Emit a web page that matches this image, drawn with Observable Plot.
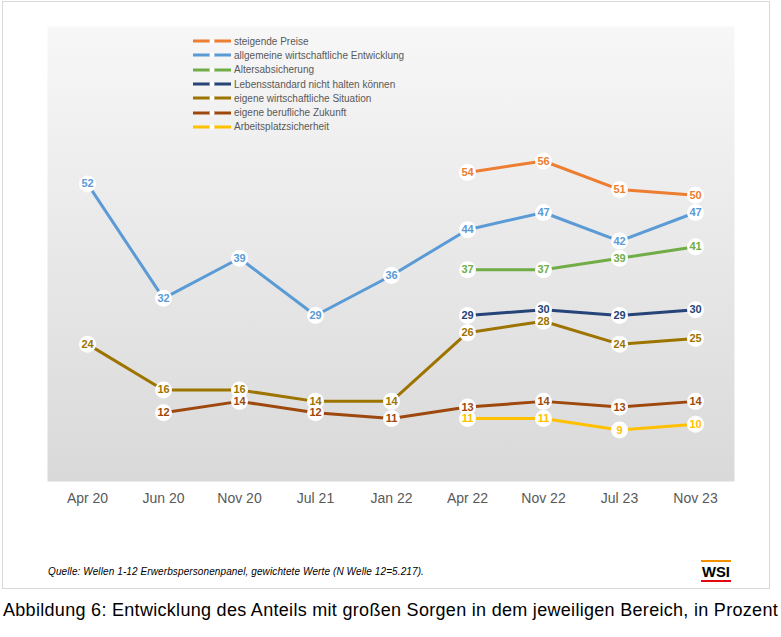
<!DOCTYPE html>
<html><head><meta charset="utf-8">
<script src="https://cdn.jsdelivr.net/npm/d3@7"></script>
<script src="https://cdn.jsdelivr.net/npm/@observablehq/plot@0.6"></script>
<style>
body{margin:0;background:#fff;}
#wrap{position:relative;width:781px;height:637px;overflow:hidden;}
#frame{position:absolute;left:2px;top:1px;width:768px;height:588px;border:1px solid #d9d9d9;box-sizing:border-box;}
#chart{position:absolute;left:0;top:0;}
#legend{position:absolute;left:190px;top:34px;font:10px "Liberation Sans",Arial,sans-serif;color:#595959;}
.li{height:14.3px;display:flex;align-items:center;}
.li svg{margin-right:2px;}
#source{position:absolute;left:48px;top:566px;font:italic 10px "Liberation Sans",Arial,sans-serif;color:#000;white-space:nowrap;}
#logo{position:absolute;left:701px;top:560px;width:30px;height:23px;}
#caption{position:absolute;left:3px;top:600px;font:18px "Liberation Sans",sans-serif;color:#000;white-space:nowrap;}
</style>
</head><body>
<div id="wrap">
  <div id="frame"></div>
  <div id="chart"></div>
  <div id="legend"></div>
  <div id="source">Quelle: Wellen 1-12 Erwerbspersonenpanel, gewichtete Werte (N Welle 12=5.217).</div>
  <svg id="logo" width="30" height="23">
    <rect x="0" y="0" width="30" height="2" fill="#f39200"></rect>
    <text x="15" y="17" text-anchor="middle" font-family="Liberation Sans, Arial" font-weight="bold" font-size="15" fill="#000" textLength="28" lengthAdjust="spacingAndGlyphs">WSI</text>
    <rect x="0" y="20" width="30" height="2" fill="#e30613"></rect>
  </svg>
  <div id="caption">Abbildung 6: Entwicklung des Anteils mit großen Sorgen in dem jeweiligen Bereich, in Prozent</div>
</div>
<script>
const categories = ["Apr 20","Jun 20","Nov 20","Jul 21","Jan 22","Apr 22","Nov 22","Jul 23","Nov 23"];
const seriesNames = ["steigende Preise","allgemeine wirtschaftliche Entwicklung","Altersabsicherung","Lebensstandard nicht halten können","eigene wirtschaftliche Situation","eigene berufliche Zukunft","Arbeitsplatzsicherheit"];
const seriesColors = ["#ED7D31","#5B9BD5","#70AD47","#264478","#9E7400","#9E480E","#FFC000"];
const steigendePreise = [null,null,null,null,null,54,56,51,50];
const allgemeineEntwicklung = [52,32,39,29,36,44,47,42,47];
const altersabsicherung = [null,null,null,null,null,37,37,39,41];
const lebensstandard = [null,null,null,null,null,29,30,29,30];
const eigeneSituation = [24,16,16,14,14,26,28,24,25];
const beruflicheZukunft = [null,12,14,12,11,13,14,13,14];
const arbeitsplatz = [null,null,null,null,null,11,11,9,10];

const seriesValues = [steigendePreise, allgemeineEntwicklung, altersabsicherung, lebensstandard, eigeneSituation, beruflicheZukunft, arbeitsplatz];
const rows = [];
seriesValues.forEach((vals, si) => vals.forEach((v, i) => {
  if (v != null) rows.push({series: seriesNames[si], date: categories[i], value: v});
}));

const chart = Plot.plot({
  width: 781, height: 530,
  marginLeft: 47, marginRight: 47, marginTop: 26, marginBottom: 49,
  style: {fontFamily: '"Liberation Sans",Arial,sans-serif', color: "#595959", background: "transparent"},
  x: {type: "point", domain: categories, padding: 0.5, tickSize: 0, tickPadding: 12, label: null},
  y: {domain: [0, 79.5], axis: null},
  color: {domain: seriesNames, range: seriesColors},
  marks: [
    Plot.frame({fill: "url(#bgGrad)", stroke: "none"}),
    Plot.line(rows, {x: "date", y: "value", z: "series", stroke: "series", strokeWidth: 3, curve: "linear"}),
    Plot.dot(rows, {x: "date", y: "value", r: 8.5, fill: "white", stroke: "none"}),
    Plot.text(rows, {x: "date", y: "value", text: d => String(d.value), fill: "series", fontWeight: "bold", fontSize: 11, fontFamily: '"Liberation Sans",Arial,sans-serif'})
  ]
});
const ns = "http://www.w3.org/2000/svg";
const defs = document.createElementNS(ns, "defs");
defs.innerHTML = '<linearGradient id="bgGrad" x1="0" y1="0" x2="0" y2="1"><stop offset="0" stop-color="#f7f7f7"/><stop offset="1" stop-color="#d9d9d9"/></linearGradient>';
chart.insertBefore(defs, chart.firstChild);
chart.querySelectorAll('g[aria-label="x-axis tick label"], g[aria-label="x-axis"]').forEach(g => g.setAttribute("font-size", "14"));
document.getElementById("chart").appendChild(chart);

// legend
const legend = d3.select("#legend");
seriesNames.forEach((name, i) => {
  const row = legend.append("div").attr("class", "li");
  const s = row.append("svg").attr("width", 42).attr("height", 8);
  s.append("line").attr("x1", 3).attr("x2", 20).attr("y1", 4).attr("y2", 4).attr("stroke", seriesColors[i]).attr("stroke-width", 3);
  s.append("line").attr("x1", 24).attr("x2", 41).attr("y1", 4).attr("y2", 4).attr("stroke", seriesColors[i]).attr("stroke-width", 3);
  s.append("circle").attr("cx", 22).attr("cy", 4).attr("r", 2.5).attr("fill", "white");
  row.append("span").text(name);
});

// fit text widths to the reference
function fitWidth(id, target) {
  const el = document.getElementById(id);
  const w = el.getBoundingClientRect().width;
  el.style.letterSpacing = ((target - w) / el.textContent.length) + "px";
}
fitWidth("caption", 775);
fitWidth("source", 376);
</script>
</body></html>
